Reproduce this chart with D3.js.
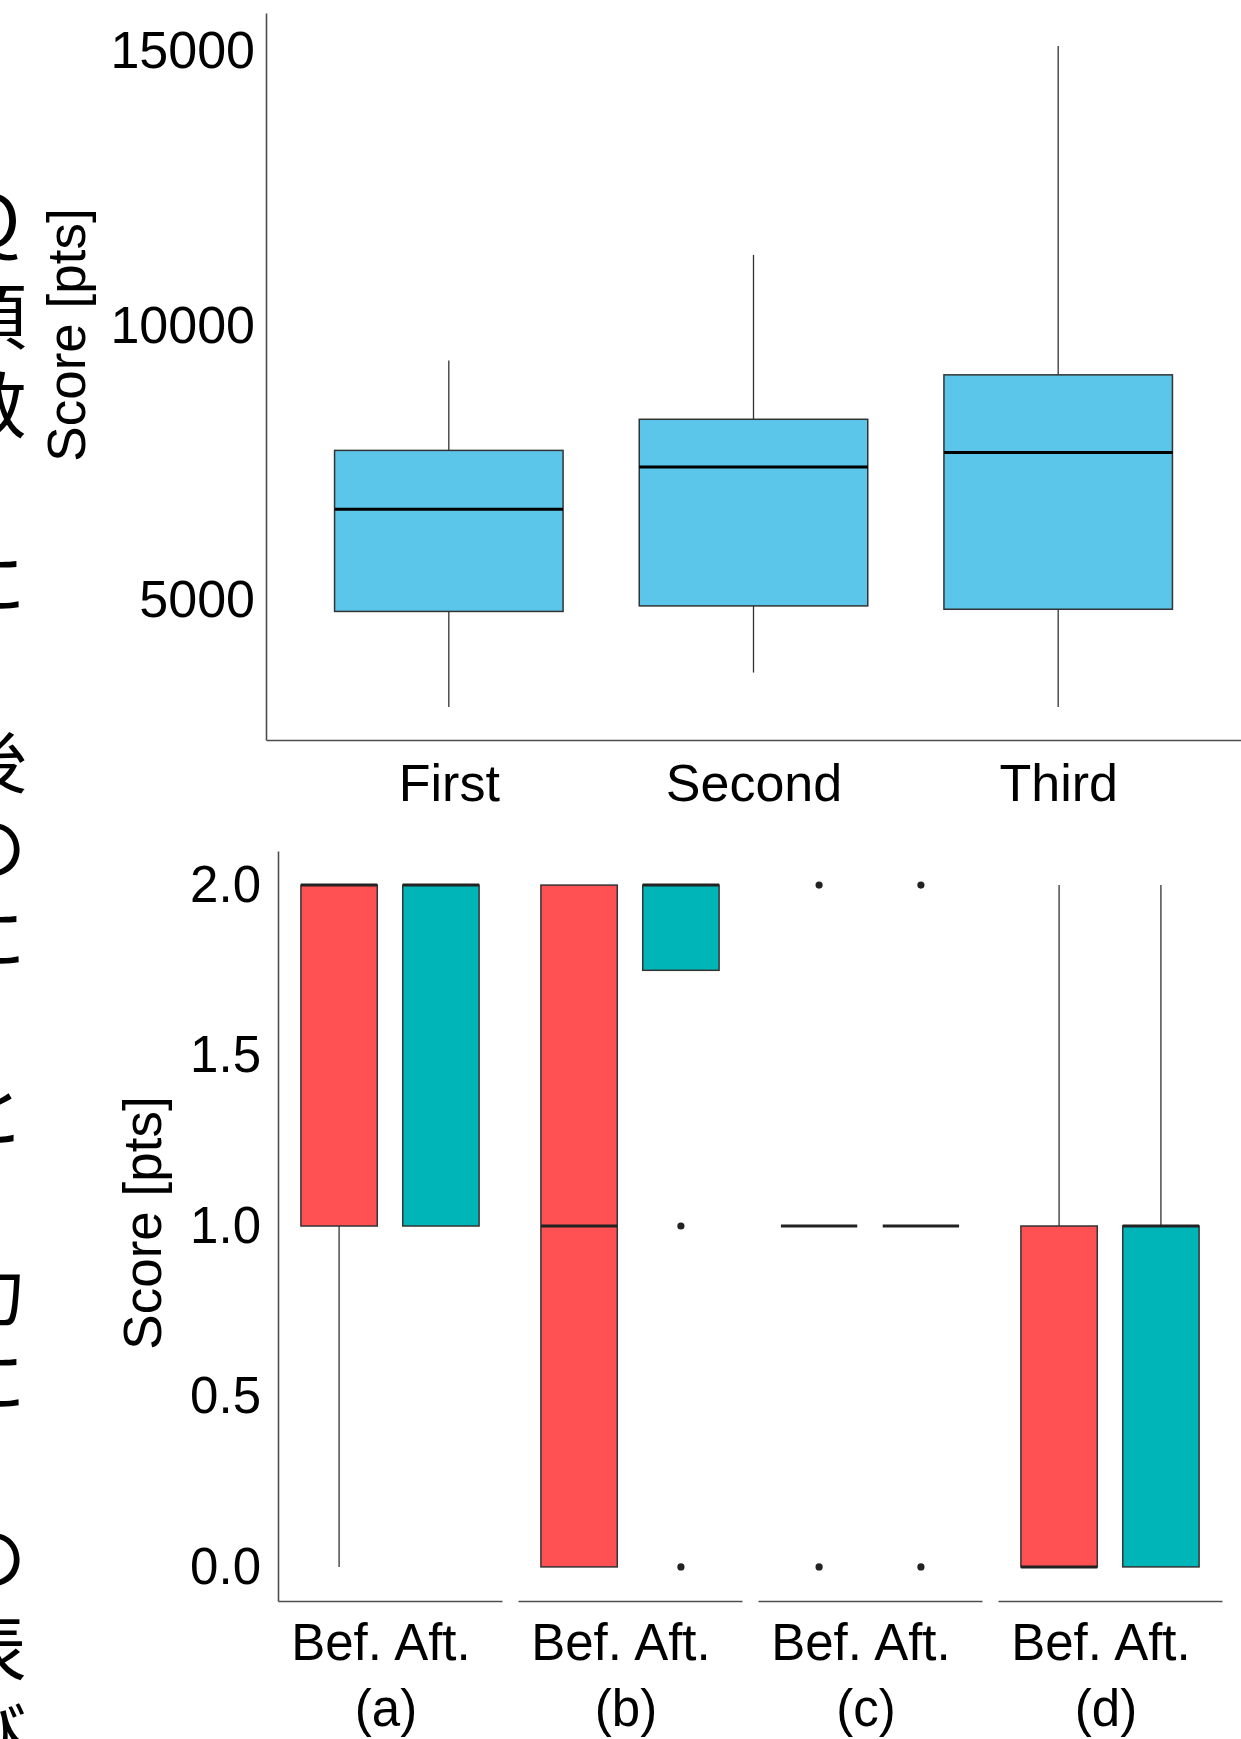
<!DOCTYPE html>
<html>
<head>
<meta charset="utf-8">
<script src="https://cdn.jsdelivr.net/npm/d3@7"></script>
<style>
  body { margin: 0; background: #fff; position: relative; overflow: hidden; }
  text { font-family: "Liberation Sans", Arial, sans-serif; fill: #000; }
  #side {
    position: absolute; left: -46px; top: 191px;
    writing-mode: vertical-rl; white-space: nowrap;
    font-family: "Noto Sans CJK JP", sans-serif;
    font-size: 72px; line-height: 72px; letter-spacing: 16.7px; color: #000;
  }
</style>
</head>
<body>
<svg id="chart"></svg>
<script>
// top panel: score per session
const sessions = ["First", "Second", "Third"];
const sessionMin = [3061, 3687, 3061];
const sessionQ1 = [4798, 4899, 4838];
const sessionMedian = [6657, 7424, 7687];
const sessionQ3 = [7727, 8293, 9101];
const sessionMax = [9364, 11283, 15081];
const scoreTicks = [5000, 10000, 15000];

// bottom panel: before / after for each question (a)-(d)
const questions = ["(a)", "(b)", "(c)", "(d)"];
const phases = ["Bef.", "Aft."];
// order: (a) Bef, (a) Aft, (b) Bef, (b) Aft, ...
const qMin = [0, 1, 0, 1.75, 1, 1, 0, 0];
const qQ1 = [1, 1, 0, 1.75, 1, 1, 0, 0];
const qMedian = [2, 2, 1, 2, 1, 1, 0, 1];
const qQ3 = [2, 2, 2, 2, 1, 1, 1, 1];
const qMax = [2, 2, 2, 2, 1, 1, 2, 2];
const qOutliers = [[], [], [], [1, 0], [2, 0], [2, 0], [], []];
const qTicks = [0, 0.5, 1, 1.5, 2];
const phaseColors = ["#ff5154", "#00b5b8"];

// cut-off column of vertical text at the left edge of the page
const sideText = "Ｑ項数　に　後のに　と　力に　の表び";

const W = 1241, H = 1739;
const svg = d3.select("#chart").attr("width", W).attr("height", H).style("display", "block");
svg.append("rect").attr("width", W).attr("height", H).attr("fill", "#fff");

d3.select("body").append("div").attr("id", "side").text(sideText);

function expand(lo, hi, f) {
	const d = (hi - lo) * f;
	return [lo - d, hi + d];
}

function styleAxis(g, size) {
	g.select(".domain").attr("stroke", "#4d4d4d").attr("stroke-width", 1.6);
	g.selectAll("text").attr("font-size", size).attr("fill", "#000")
		.attr("font-family", '"Liberation Sans", Arial, sans-serif');
}

// ---------- top panel ----------
const topBox = {left: 266, right: 1241, top: 13, bottom: 740};
const topY = d3.scaleLinear()
	.domain(expand(d3.min(sessionMin), d3.max(sessionMax), 0.05))
	.range([topBox.bottom, topBox.top]);
const topX = d3.scalePoint().domain(sessions).range([topBox.left, topBox.right]).padding(0.6);
const topW = topX.step() * 0.75;

const topG = svg.append("g");
sessions.forEach((s, i) => {
	const cx = topX(s);
	topG.append("line")
		.attr("x1", cx).attr("x2", cx)
		.attr("y1", topY(sessionMax[i])).attr("y2", topY(sessionQ3[i]))
		.attr("stroke", "#333").attr("stroke-width", 1.3);
	topG.append("line")
		.attr("x1", cx).attr("x2", cx)
		.attr("y1", topY(sessionQ1[i])).attr("y2", topY(sessionMin[i]))
		.attr("stroke", "#333").attr("stroke-width", 1.3);
	topG.append("rect")
		.attr("x", cx - topW / 2)
		.attr("y", topY(sessionQ3[i]))
		.attr("width", topW)
		.attr("height", topY(sessionQ1[i]) - topY(sessionQ3[i]))
		.attr("fill", "#5bc5ea")
		.attr("stroke", "#333").attr("stroke-width", 1.5);
	topG.append("line")
		.attr("x1", cx - topW / 2).attr("x2", cx + topW / 2)
		.attr("y1", topY(sessionMedian[i])).attr("y2", topY(sessionMedian[i]))
		.attr("stroke", "#000").attr("stroke-width", 3);
});

svg.append("g")
	.attr("transform", `translate(${topBox.left},0)`)
	.call(d3.axisLeft(topY).tickValues(scoreTicks).tickSize(0).tickPadding(11).tickFormat(d3.format("d")))
	.call(g => styleAxis(g, 52));
svg.append("g")
	.attr("transform", `translate(0,${topBox.bottom})`)
	.call(d3.axisBottom(topX).tickSize(0).tickPadding(24))
	.call(g => styleAxis(g, 52));

svg.append("text")
	.attr("transform", `translate(85,335) rotate(-90)`)
	.attr("text-anchor", "middle")
	.attr("font-size", 53)
	.text("Score [pts]");

// ---------- bottom panel ----------
const botBox = {left: 278, right: 1222, top: 851, bottom: 1601};
const botY = d3.scaleLinear().domain(expand(0, 2, 0.05)).range([botBox.bottom, botBox.top]);
const facetX = d3.scaleBand().domain(questions).range([botBox.left, botBox.right]).paddingInner(16 / 240);
const innerX = d3.scalePoint().domain(phases).range([0, facetX.bandwidth()]).padding(0.6);
const botW = innerX.step() * 0.75;

questions.forEach((q, qi) => {
	const fg = svg.append("g").attr("transform", `translate(${facetX(q)},0)`);
	phases.forEach((p, pi) => {
		const k = qi * phases.length + pi;
		const cx = innerX(p);
		if (qMax[k] > qQ3[k]) {
			fg.append("line")
				.attr("x1", cx).attr("x2", cx)
				.attr("y1", botY(qMax[k])).attr("y2", botY(qQ3[k]))
				.attr("stroke", "#333").attr("stroke-width", 1.3);
		}
		if (qMin[k] < qQ1[k]) {
			fg.append("line")
				.attr("x1", cx).attr("x2", cx)
				.attr("y1", botY(qQ1[k])).attr("y2", botY(qMin[k]))
				.attr("stroke", "#333").attr("stroke-width", 1.3);
		}
		if (qQ3[k] > qQ1[k]) {
			fg.append("rect")
				.attr("x", cx - botW / 2)
				.attr("y", botY(qQ3[k]))
				.attr("width", botW)
				.attr("height", botY(qQ1[k]) - botY(qQ3[k]))
				.attr("fill", phaseColors[pi])
				.attr("stroke", "#333").attr("stroke-width", 1.5);
		}
		fg.append("line")
			.attr("x1", cx - botW / 2).attr("x2", cx + botW / 2)
			.attr("y1", botY(qMedian[k])).attr("y2", botY(qMedian[k]))
			.attr("stroke", "#222").attr("stroke-width", 3);
		fg.selectAll(null)
			.data(qOutliers[k])
			.enter()
			.append("circle")
			.attr("cx", cx)
			.attr("cy", d => botY(d))
			.attr("r", 3.6)
			.attr("fill", "#222");
	});
	fg.append("g")
		.attr("transform", `translate(0,${botBox.bottom})`)
		.call(d3.axisBottom(innerX).tickSize(0).tickPadding(23))
		.call(g => styleAxis(g, 51))
		// labels sit a little closer together than the boxes
		.call(g => g.selectAll(".tick text").attr("dx", d => d === "Bef." ? -3 : -9));
	fg.append("text")
		.attr("x", facetX.bandwidth() / 2 - 4)
		.attr("y", 1726)
		.attr("text-anchor", "middle")
		.attr("font-size", 51)
		.text(q);
});

svg.append("g")
	.attr("transform", `translate(${botBox.left},0)`)
	.call(d3.axisLeft(botY).tickValues(qTicks).tickSize(0).tickPadding(17).tickFormat(d3.format(".1f")))
	.call(g => styleAxis(g, 51));

svg.append("text")
	.attr("transform", `translate(161,1223) rotate(-90)`)
	.attr("text-anchor", "middle")
	.attr("font-size", 53)
	.text("Score [pts]");
</script>
</body>
</html>
